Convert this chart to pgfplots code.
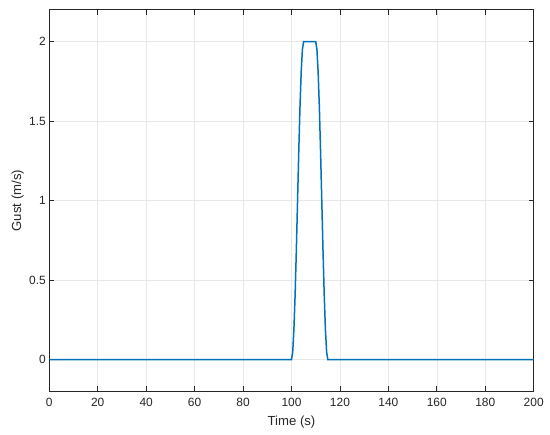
\documentclass[border=0pt]{standalone}
\usepackage{fontspec}
\setmainfont{Liberation Sans}
\usepackage{pgfplots}
\pgfplotsset{compat=1.18}
\definecolor{mblue}{rgb}{0,0.447,0.741}
\definecolor{maxis}{rgb}{0.15,0.15,0.15}

\begin{document}
\begin{tikzpicture}
\begin{axis}[
    at={(0,0)}, anchor=south west,
    scale only axis,
    width=484.4bp, height=381.6bp,
    xmin=0, xmax=200, ymin=-0.2, ymax=2.2,
    xtick={0,20,...,200},
    ytick={0,0.5,1,1.5,2},
    yticklabels={0,0.5,1,1.5,2},
    grid=major, grid style={gray!18, line width=0.6bp},
    axis line style={maxis, line width=0.8bp},
    tick style={maxis, line width=0.8bp},
    tick align=inside,
    major tick length=5bp,
    font=\fontsize{12}{14}\selectfont,
    tick label style={maxis},
    xticklabel style={yshift=-3bp},
    /pgf/number format/assume math mode=true,
    xlabel={Time (s)}, ylabel={Gust (m/s)},
    label style={maxis, font=\fontsize{13.2}{15}\selectfont},
    xlabel style={yshift=-3bp},
    ylabel style={yshift=-1.5bp},
]
\addplot[mblue, line width=1.5bp] coordinates {
    (0,0)(100,0)
    (100.5,0.049)(101,0.191)(101.5,0.412)(102,0.691)(102.5,1.0)
    (103,1.309)(103.5,1.588)(104,1.809)(104.5,1.951)(105,2.0)
    (110,2.0)
    (110.5,1.951)(111,1.809)(111.5,1.588)(112,1.309)(112.5,1.0)
    (113,0.691)(113.5,0.412)(114,0.191)(114.5,0.049)(115,0)
    (200,0)
};
\end{axis}
\path (-49.3bp,-43.5bp) rectangle ++(550bp,435bp);
\end{tikzpicture}
\end{document}
